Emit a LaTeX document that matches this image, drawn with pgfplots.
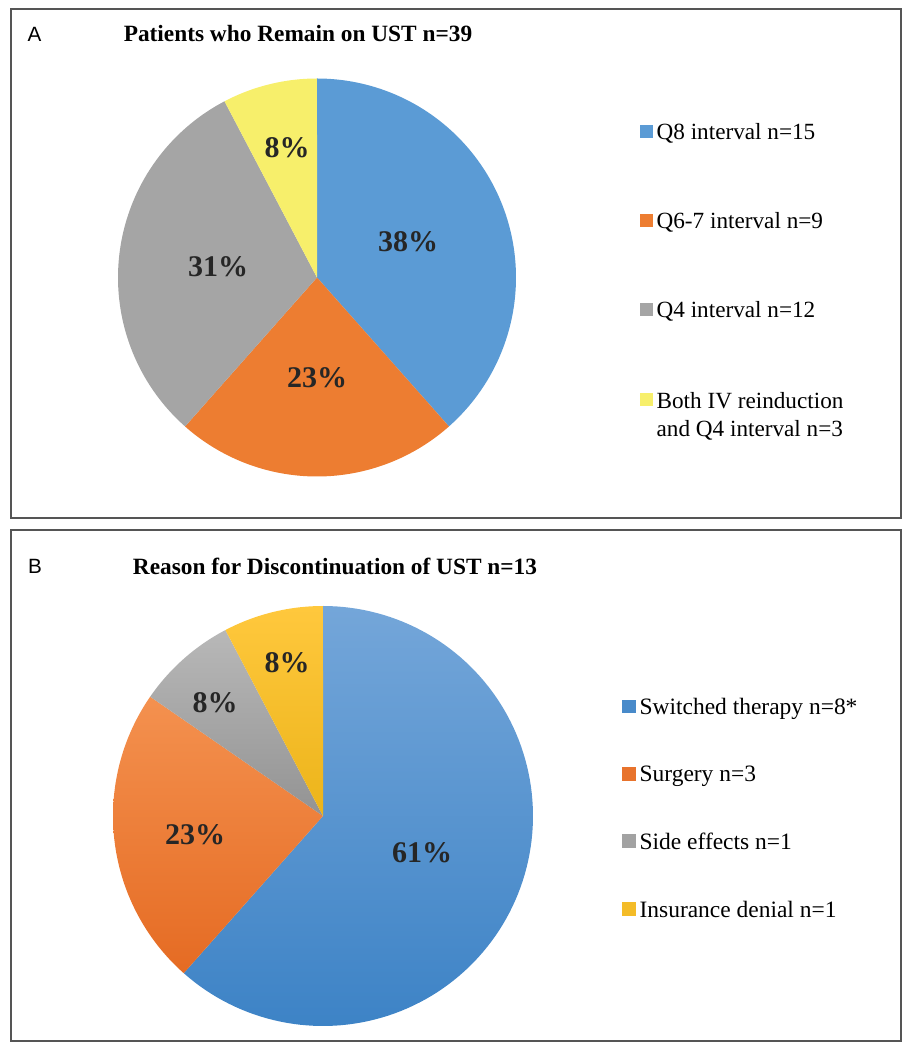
\documentclass[border=0pt]{standalone}
\usepackage{pgfplots}
\pgfplotsset{compat=1.18}
\usepackage{pgfplotstable}
\usepackage{fontspec}
\setmainfont{Liberation Serif}
\setsansfont{Liberation Sans}

\definecolor{aBlue}{HTML}{5B9BD5}
\definecolor{aOrange}{HTML}{ED7D31}
\definecolor{aGray}{HTML}{A5A5A5}
\definecolor{aYellow}{HTML}{F7EF6B}
\definecolor{bBlueT}{HTML}{74A6D9}
\definecolor{bBlueB}{HTML}{3D83C6}
\definecolor{bOrangeT}{HTML}{F4914F}
\definecolor{bOrangeB}{HTML}{E56B23}
\definecolor{bGrayT}{HTML}{B8B8B8}
\definecolor{bGrayB}{HTML}{939393}
\definecolor{bGoldT}{HTML}{FFC83D}
\definecolor{bGoldB}{HTML}{ECB41A}
\definecolor{frame}{HTML}{555555}

% counts (data)
\pgfplotstableread{
cat n
Q8 15
Q67 9
Q4 12
Both 3
}\dataA
\pgfplotstableread{
cat n
Switched 8
Surgery 3
Side 1
Insurance 1
}\dataB

\newcommand\getn[3]{\pgfplotstablegetelem{#2}{n}\of#1\let#3\pgfplotsretval}
\getn\dataA{0}\nAa \getn\dataA{1}\nAb \getn\dataA{2}\nAc \getn\dataA{3}\nAd
\getn\dataB{0}\nBa \getn\dataB{1}\nBb \getn\dataB{2}\nBc \getn\dataB{3}\nBd
\pgfmathsetmacro\totA{\nAa+\nAb+\nAc+\nAd}
\pgfmathsetmacro\totB{\nBa+\nBb+\nBc+\nBd}
\pgfmathsetmacro\aO{90}
\pgfmathsetmacro\aA{\aO-360*\nAa/\totA}
\pgfmathsetmacro\aB{\aA-360*\nAb/\totA}
\pgfmathsetmacro\aC{\aB-360*\nAc/\totA}
\pgfmathsetmacro\aD{\aC-360*\nAd/\totA}
\pgfmathsetmacro\bA{\aO-360*\nBa/\totB}
\pgfmathsetmacro\bB{\bA-360*\nBb/\totB}
\pgfmathsetmacro\bC{\bB-360*\nBc/\totB}
\pgfmathsetmacro\bD{\bC-360*\nBd/\totB}

% slice: cx, cy, r, start, end, style
\newcommand\pieslice[6]{%
  \addplot[#6, draw=none, forget plot, domain=#5:#4, samples=120]
    ({#1+#3*cos(x)},{#2+#3*sin(x)}) -- (axis cs:#1,#2) -- cycle;}

\pgfplotsset{panel/.style={
  x=0.75pt, y=0.75pt, xmin=11, xmax=901,
  xtick=\empty, ytick=\empty, axis line style={draw=frame, line width=1.6pt},
  no markers, clip=false, anchor=south west,
  legend cell align=left,
}}

\begin{document}
\begin{tikzpicture}
\path (0,0) rectangle (684.75pt,787.5pt);

% ---------------- Panel A ----------------
\begin{axis}[panel, at={(8.25pt,399pt)}, ymin=532, ymax=1041,
  legend style={draw=none, fill=none, at={(axis cs:640,932)}, anchor=north west,
    font=\fontsize{17.4}{20}\selectfont, row sep=49pt, inner xsep=0pt,
    nodes={inner xsep=2.5pt}},
  legend image code/.code={\fill[#1] (0pt,-4pt) rectangle (9.75pt,5.75pt);}]
\pieslice{317}{772.5}{199}{\aA}{\aO}{fill=aBlue}
\pieslice{317}{772.5}{199}{\aB}{\aA}{fill=aOrange}
\pieslice{317}{772.5}{199}{\aC}{\aB}{fill=aGray}
\pieslice{317}{772.5}{199}{\aD}{\aC}{fill=aYellow}
\addlegendimage{fill=aBlue, draw=none}\addlegendentry{Q8 interval n=15}
\addlegendimage{fill=aOrange, draw=none}\addlegendentry{Q6-7 interval n=9}
\addlegendimage{fill=aGray, draw=none}\addlegendentry{Q4 interval n=12}
\addlegendimage{fill=aYellow, draw=none}\addlegendentry{\begin{tabular}[t]{@{}l@{}}Both IV reinduction\\[1pt]and Q4 interval n=3\end{tabular}}
\node[font=\sffamily\fontsize{15.5}{18}\selectfont] at (axis cs:34.5,1016) {A};
\node[font=\bfseries\fontsize{17.5}{20}\selectfont] at (axis cs:298,1016) {Patients who Remain on UST n=39};
\begin{scope}[every node/.style={font=\bfseries\fontsize{22.5}{26}\selectfont, text=black!85}]
\node at (axis cs:408,808) {38\%};
\node at (axis cs:317,672) {23\%};
\node at (axis cs:218,783) {31\%};
\node at (axis cs:287,902) {8\%};
\end{scope}
\end{axis}

% ---------------- Panel B ----------------
\begin{axis}[panel, at={(8.25pt,6.75pt)}, ymin=9, ymax=520,
  legend style={draw=none, fill=none, at={(axis cs:622,357)}, anchor=north west,
    font=\fontsize{17.6}{20}\selectfont, row sep=33pt, inner xsep=0pt,
    nodes={inner xsep=2.5pt}},
  legend image code/.code={\fill[#1] (0pt,-4.2pt) rectangle (10.5pt,6pt);}]
\pieslice{323}{234}{210}{\bA}{\aO}{top color=bBlueT, bottom color=bBlueB}
\pieslice{323}{234}{210}{\bB}{\bA}{top color=bOrangeT, bottom color=bOrangeB}
\pieslice{323}{234}{210}{\bC}{\bB}{top color=bGrayT, bottom color=bGrayB}
\pieslice{323}{234}{210}{\bD}{\bC}{top color=bGoldT, bottom color=bGoldB}
\addlegendimage{fill=bBlueB!80!bBlueT, draw=none}\addlegendentry{Switched therapy n=8*}
\addlegendimage{fill=bOrangeB!80!bOrangeT, draw=none}\addlegendentry{Surgery n=3}
\addlegendimage{fill=bGrayB!60!bGrayT, draw=none}\addlegendentry{Side effects n=1}
\addlegendimage{fill=bGoldB!60!bGoldT, draw=none}\addlegendentry{Insurance denial n=1}
\node[font=\sffamily\fontsize{15.5}{18}\selectfont] at (axis cs:35,484) {B};
\node[font=\bfseries\fontsize{17.5}{20}\selectfont] at (axis cs:335,484) {Reason for Discontinuation of UST n=13};
\begin{scope}[every node/.style={font=\bfseries\fontsize{22.5}{26}\selectfont, text=black!85}]
\node at (axis cs:422,197) {61\%};
\node at (axis cs:195,215) {23\%};
\node at (axis cs:215,347) {8\%};
\node at (axis cs:287,387) {8\%};
\end{scope}
\end{axis}
\end{tikzpicture}
\end{document}
